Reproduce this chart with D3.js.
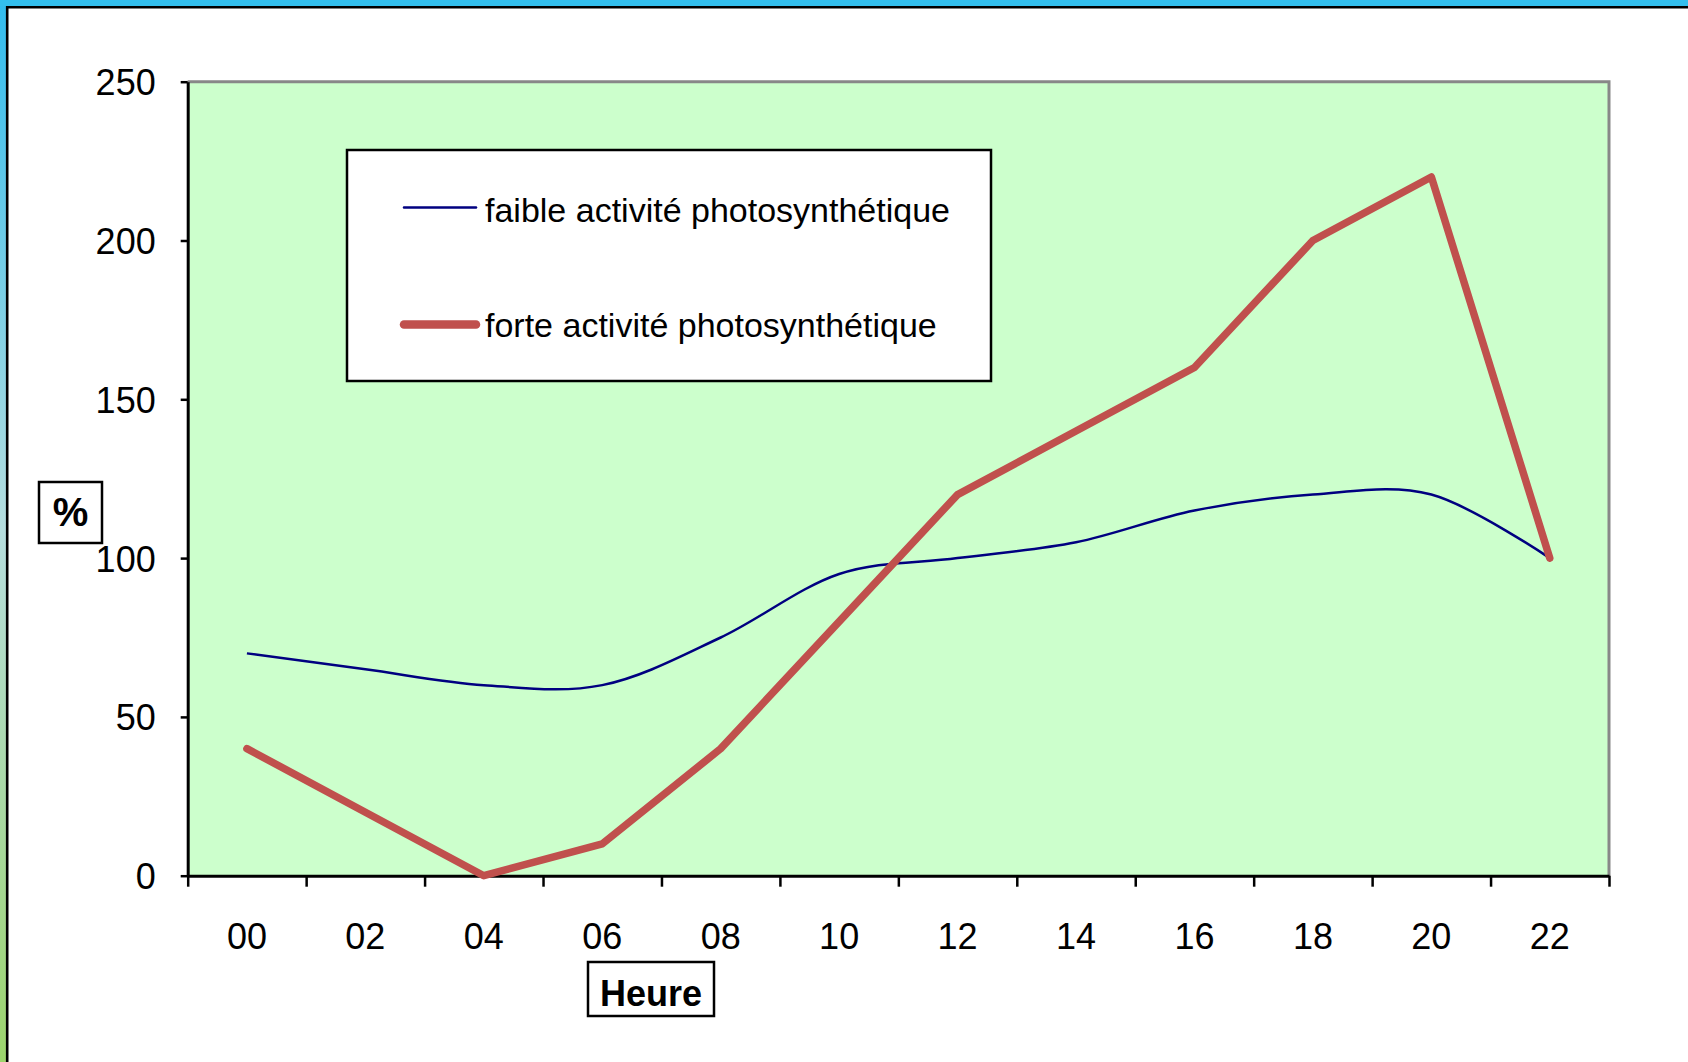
<!DOCTYPE html>
<meta charset="utf-8">
<head>
  <title>Activité photosynthétique</title>
  <script src="https://d3js.org/d3.v7.min.js"></script>
  <style>
    body { margin: 0; background: #fff; font-family: "Liberation Sans", Arial, sans-serif; }
    svg { display: block; }
  </style>
</head>
<body>
<div id="my_dataviz"></div>
<script>
// data
const heures = ["00","02","04","06","08","10","12","14","16","18","20","22"];
const faible = [70, 65, 60, 60, 75, 95, 100, 105, 115, 120, 120, 100];
const forte  = [40, 20, 0, 10, 40, 80, 120, 140, 160, 200, 220, 100];
const yTicks = [0, 50, 100, 150, 200, 250];
const seriesNames = ["faible activité photosynthétique", "forte activité photosynthétique"];

const W = 1688, H = 1062;
// plot box
const plotL = 187.7, plotR = 1609, plotT = 81.7, plotB = 875.7;

const svg = d3.select("#my_dataviz").append("svg")
  .attr("width", W).attr("height", H);

// frame: blue strip on top, gradient strip on the left
const defs = svg.append("defs");
const grad = defs.append("linearGradient").attr("id", "sideGrad")
  .attr("x1", 0).attr("y1", 0).attr("x2", 0).attr("y2", 1);
grad.append("stop").attr("offset", "0%").attr("stop-color", "#31bcee");
grad.append("stop").attr("offset", "50%").attr("stop-color", "#b6dede");
grad.append("stop").attr("offset", "100%").attr("stop-color", "#9cd46c");

svg.append("rect").attr("x", 0).attr("y", 0).attr("width", 6).attr("height", H).attr("fill", "url(#sideGrad)");
svg.append("rect").attr("x", 0).attr("y", 0).attr("width", W).attr("height", 6).attr("fill", "#33bfee");
svg.append("path").attr("d", `M7.2,${H} V7.2 H${W}`)
  .attr("fill", "none").attr("stroke", "#000").attr("stroke-width", 2.6);

// scales
const x = d3.scaleBand().domain(heures).range([plotL, plotR]);
const xEdge = d3.scaleLinear().domain([0, heures.length]).range([plotL, plotR]);
const y = d3.scaleLinear().domain([0, 250]).range([plotB, plotT]);

// plot background
svg.append("rect")
  .attr("x", plotL).attr("y", plotT)
  .attr("width", plotR - plotL).attr("height", plotB - plotT)
  .attr("fill", "#ccffcc");
svg.append("path").attr("d", `M${plotL},${plotT} H${plotR} V${plotB}`)
  .attr("fill", "none").attr("stroke", "#888").attr("stroke-width", 3);

// y axis
const yAxis = svg.append("g").attr("transform", `translate(${plotL},0)`)
  .call(d3.axisLeft(y).tickValues(yTicks).tickSize(7).tickPadding(25).tickSizeOuter(0));
yAxis.select(".domain").attr("stroke-width", 3);
yAxis.selectAll(".tick line").attr("stroke-width", 2.5);
yAxis.selectAll("text").style("font-size", "36px").style("font-family", "'Liberation Sans', Arial")
  .attr("fill", "#000").attr("dy", "0.36em");

// x axis: ticks between categories, labels at category centres
const xTickAxis = svg.append("g").attr("transform", `translate(0,${plotB})`)
  .call(d3.axisBottom(xEdge).ticks(heures.length).tickSize(11).tickFormat("").tickSizeOuter(0));
xTickAxis.select(".domain").attr("stroke-width", 3);
xTickAxis.selectAll(".tick line").attr("stroke-width", 2.5);

const xLabAxis = svg.append("g").attr("transform", `translate(0,${plotB})`)
  .call(d3.axisBottom(x).tickSize(0).tickPadding(48));
xLabAxis.select(".domain").remove();
xLabAxis.selectAll("text").style("font-size", "36px").style("font-family", "'Liberation Sans', Arial")
  .attr("fill", "#000");

// lines
const cx = (d, i) => x(heures[i]) + x.bandwidth() / 2;
const lineSmooth = d3.line().x(cx).y(d => y(d)).curve(d3.curveCardinal.tension(0));
const lineStraight = d3.line().x(cx).y(d => y(d));

svg.append("path").datum(faible)
  .attr("d", lineSmooth)
  .attr("fill", "none").attr("stroke", "#000080").attr("stroke-width", 2.5);

svg.append("path").datum(forte)
  .attr("d", lineStraight)
  .attr("fill", "none").attr("stroke", "#c0504d").attr("stroke-width", 7.5)
  .attr("stroke-linejoin", "round").attr("stroke-linecap", "round");

// legend
const lg = svg.append("g");
lg.append("rect").attr("x", 347).attr("y", 150).attr("width", 644).attr("height", 231)
  .attr("fill", "#fff").attr("stroke", "#000").attr("stroke-width", 2.5);
const legendItems = [
  {name: seriesNames[0], color: "#000080", w: 2.5, ly: 207.5, ty: 221.5},
  {name: seriesNames[1], color: "#c0504d", w: 8.5, ly: 324.5, ty: 337}
];
legendItems.forEach(d => {
  lg.append("line").attr("x1", 404).attr("x2", 476).attr("y1", d.ly).attr("y2", d.ly)
    .attr("stroke", d.color).attr("stroke-width", d.w).attr("stroke-linecap", "round");
  lg.append("text").attr("x", 485).attr("y", d.ty).text(d.name)
    .style("font-size", "34px").attr("fill", "#000");
});

// axis titles in boxes
svg.append("rect").attr("x", 39).attr("y", 482).attr("width", 63).attr("height", 61)
  .attr("fill", "#fff").attr("stroke", "#000").attr("stroke-width", 2.5);
svg.append("text").attr("x", 70.5).attr("y", 526).attr("text-anchor", "middle")
  .style("font-size", "40px").style("font-weight", "bold").text("%");

svg.append("rect").attr("x", 588).attr("y", 962).attr("width", 126).attr("height", 54)
  .attr("fill", "#fff").attr("stroke", "#000").attr("stroke-width", 2.5);
svg.append("text").attr("x", 651).attr("y", 1006).attr("text-anchor", "middle")
  .style("font-size", "36px").style("font-weight", "bold").text("Heure");
</script>
</body>
